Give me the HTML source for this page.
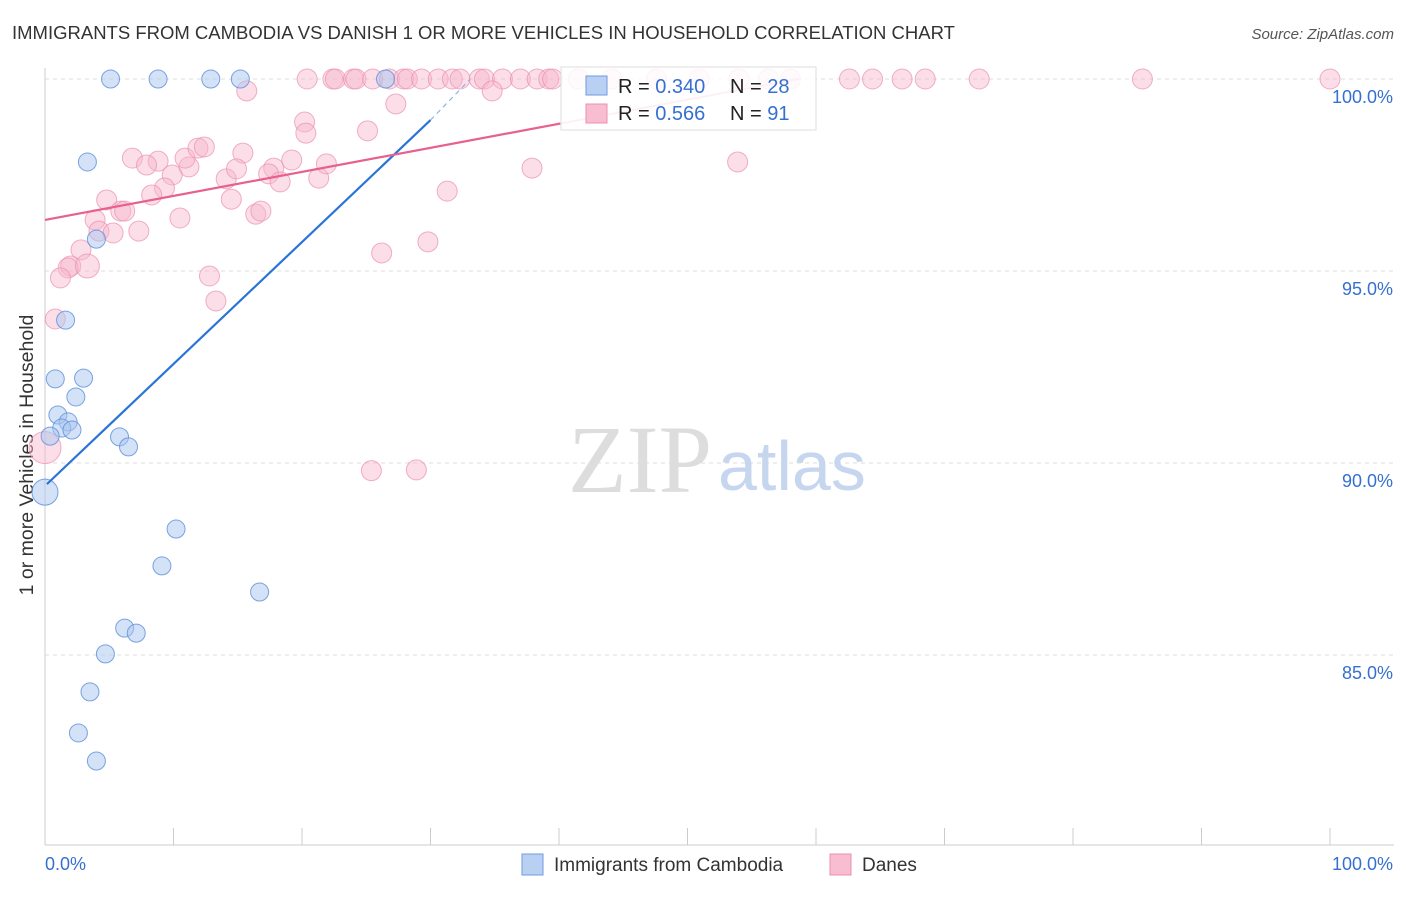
<!DOCTYPE html>
<html><head><meta charset="utf-8"><style>
body{margin:0;background:#fff;font-family:"Liberation Sans",sans-serif;}
</style></head><body>
<svg width="1406" height="892" xmlns="http://www.w3.org/2000/svg" id="chart">
<text x="12" y="39" font-size="18.5" fill="#333">IMMIGRANTS FROM CAMBODIA VS DANISH 1 OR MORE VEHICLES IN HOUSEHOLD CORRELATION CHART</text>
<text x="1394" y="39" font-size="15" fill="#555" text-anchor="end" font-style="italic">Source: ZipAtlas.com</text>
<text transform="translate(33,455) rotate(-90)" font-size="19.5" fill="#333" text-anchor="middle">1 or more Vehicles in Household</text>
<g id="grid"></g>
<text x="712" y="492" font-size="96" font-family="Liberation Serif,serif" fill="#ddd" text-anchor="end">ZIP</text>
<text x="718" y="490" font-size="70" fill="#c5d6ee">atlas</text>
<g id="pts"></g>
<g id="lines"></g>
<g>
<rect x="561" y="67" width="255" height="63" fill="#fff" fill-opacity="0.85" stroke="#ddd"/>
<rect x="586" y="76" width="21" height="19" fill="#b9d0f3" stroke="#6f9be0"/>
<rect x="586" y="104" width="21" height="19" fill="#f8bdd0" stroke="#ec8fae"/>
<text x="618" y="93" font-size="20" fill="#222">R = <tspan fill="#3570d0">0.340</tspan></text>
<text x="730" y="93" font-size="20" fill="#222">N = <tspan fill="#3570d0">28</tspan></text>
<text x="618" y="120" font-size="20" fill="#222">R = <tspan fill="#3570d0"> 0.566</tspan></text>
<text x="730" y="120" font-size="20" fill="#222">N = <tspan fill="#3570d0"> 91</tspan></text>
</g>
<g>
<rect x="522" y="854" width="21" height="21" fill="#b9d0f3" stroke="#6f9be0"/>
<text x="554" y="871" font-size="19" fill="#333">Immigrants from Cambodia</text>
<rect x="830" y="854" width="21" height="21" fill="#f8bdd0" stroke="#ec8fae"/>
<text x="862" y="871" font-size="19" fill="#333">Danes</text>
</g>
</svg>
<script>
const xTicks=[0,10,20,30,40,50,60,70,80,90,100];
const yTicks=[85,90,95,100];
const blueX=[5.1,8.8,12.9,15.2,26.5,3.3,4.0,1.6,0.8,3.0,2.4,1.0,1.8,1.3,2.1,0.4,5.8,6.5,0,10.2,9.1,16.7,6.2,7.1,4.7,3.5,2.6,4.0];
const blueY=[100,100,100,100,100,97.84,95.83,93.72,92.19,92.21,91.72,91.25,91.07,90.91,90.86,90.70,90.68,90.42,89.24,88.28,87.32,86.64,85.70,85.57,85.03,84.04,82.97,82.24];
const pinkX=[20.4,22.4,22.6,24.0,24.2,25.5,26.8,27.9,28.2,29.3,30.6,31.7,32.3,33.8,34.2,35.6,37.0,38.3,39.2,39.5,41.5,44.1,47.6,50.9,54.0,56.3,58.0,62.6,64.4,66.7,68.5,72.7,85.4,100,
 15.7,34.8,27.3,20.2,20.3,25.1,53.9,37.9,6.8,8.8,7.9,11.2,10.9,11.9,12.4,15.4,9.9,14.1,14.9,17.8,17.4,18.3,19.2,21.3,21.9,9.3,8.3,4.8,14.5,31.3,5.9,6.2,10.5,3.9,16.4,16.8,7.3,4.2,5.3,2.8,2.0,1.8,3.3,1.2,12.8,13.3,0.8,26.2,29.8,25.4,28.9,0];
const pinkY=[100,100,100,100,100,100,100,100,100,100,100,100,100,100,100,100,100,100,100,100,100,100,100,100,100,100,100,100,100,100,100,100,100,100,
 99.69,99.69,99.35,98.88,98.59,98.65,97.84,97.68,97.94,97.86,97.76,97.71,97.94,98.20,98.23,98.07,97.5,97.4,97.66,97.68,97.53,97.32,97.89,97.42,97.79,97.16,96.98,96.85,96.87,97.08,96.56,96.56,96.38,96.33,96.48,96.56,96.04,96.04,95.99,95.55,95.13,95.08,95.13,94.82,94.87,94.22,93.75,95.47,95.76,89.8,89.82,90.4];
const blueLine=[[0.15,89.45],[30.0,98.93]];
const blueDash=[[30.0,98.93],[33.1,100]];
const pinkLine=[[0,96.33],[40.1,98.84]];
const pinkFade=[[40.1,98.84],[58.75,100.01]];
const NS='http://www.w3.org/2000/svg';
const X=v=>45+v*12.85, Y=v=>79+(100-v)*38.4;
function mk(t,a,p){const e=document.createElementNS(NS,t);for(const k in a)e.setAttribute(k,a[k]);p.appendChild(e);return e;}
const grid=document.getElementById('grid');
mk('line',{x1:45,y1:68,x2:45,y2:845,stroke:'#ccc'},grid);
mk('line',{x1:45,y1:845,x2:1394,y2:845,stroke:'#ccc'},grid);
yTicks.forEach(v=>{const l=mk('line',{x1:45,y1:Y(v),x2:1394,y2:Y(v),stroke:'#ddd','stroke-dasharray':'4,4'},grid);


const t=mk('text',{x:1393,y:Y(v)+24,'font-size':18,fill:'#3570d0','text-anchor':'end'},grid);t.textContent=v.toFixed(1)+'%';

});
xTicks.forEach(v=>{const l=mk('line',{x1:X(v),y1:828,x2:X(v),y2:845,stroke:'#ccc'},grid);

});
[[0,'0.0%','start',45],[100,'100.0%','end',1393]].forEach(d=>{const t=mk('text',{x:d[3],y:870,'font-size':18,fill:'#3570d0','text-anchor':d[2]},grid);t.textContent=d[1];

});
const pts=document.getElementById('pts');
pinkX.forEach((x,i)=>{const r=(i==pinkX.length-1)?16:(i==pinkX.length-10?12:10);const c=mk('circle',{cx:X(x),cy:Y(pinkY[i]),r:r,fill:'#f6b6cb','fill-opacity':0.45,stroke:'#eb8fae','stroke-opacity':0.7},pts);

});
blueX.forEach((x,i)=>{const r=(i==18)?13:9;const c=mk('circle',{cx:X(x),cy:Y(blueY[i]),r:r,fill:'#a9c6f0','fill-opacity':0.5,stroke:'#5b8fd8','stroke-opacity':0.8},pts);

});
const lines=document.getElementById('lines');
function ln(p,st,nm){const l=mk('line',Object.assign({x1:X(p[0][0]),y1:Y(p[0][1]),x2:X(p[1][0]),y2:Y(p[1][1])},st),lines);

}
ln(blueLine,{stroke:'#2a74d8','stroke-width':2.2},'cambodia-trendline');
ln(blueDash,{stroke:'#8fb4e8','stroke-width':1.2,'stroke-dasharray':'5,4'},'cambodia-trendline-extension');
ln(pinkLine,{stroke:'#e8608e','stroke-width':2.2},'danes-trendline');
ln(pinkFade,{stroke:'#f19bb9','stroke-width':2},'danes-trendline-extension');
</script>
</body></html>
